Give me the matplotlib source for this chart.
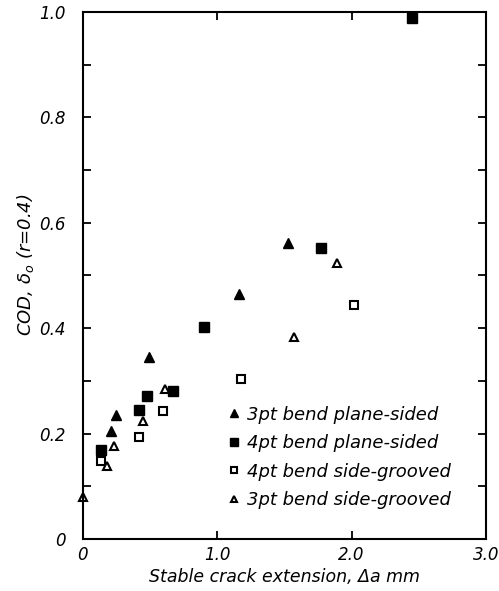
import matplotlib.pyplot as plt

# 3pt bend plane-sided (filled triangles)
x_3pt_plane = [0.21, 0.245, 0.495, 1.16, 1.53]
y_3pt_plane = [0.205, 0.235, 0.345, 0.465, 0.562]

# 4pt bend plane-sided (filled squares)
x_4pt_plane = [0.134, 0.42, 0.48, 0.67, 0.90, 1.77, 2.45]
y_4pt_plane = [0.169, 0.245, 0.272, 0.281, 0.402, 0.552, 0.988]

# 4pt bend side-grooved (open squares)
x_4pt_sg = [0.134, 0.42, 0.60, 1.18, 2.02]
y_4pt_sg = [0.148, 0.194, 0.243, 0.304, 0.443]

# 3pt bend side-grooved (open triangles)
x_3pt_sg = [0.0, 0.18, 0.235, 0.445, 0.61, 1.57, 1.89]
y_3pt_sg = [0.08, 0.139, 0.176, 0.223, 0.285, 0.384, 0.523]

x_ticks = [0, 1.0, 2.0, 3.0]
x_ticklabels = ["0", "1.0", "2.0", "3.0"]
y_ticks = [0, 0.2, 0.4, 0.6, 0.8, 1.0]
y_ticklabels = ["0", "0.2", "0.4", "0.6", "0.8", "1.0"]

plt.rcParams["font.family"] = ["DejaVu Sans"]
plt.rcParams["font.style"] = "italic"

fig = plt.figure(figsize=(4.99, 5.91), dpi=100)
ax = fig.add_axes([0.166, 0.088, 0.808, 0.892])

ax.plot(x_3pt_plane, y_3pt_plane, ls="none", marker="^", ms=7, color="black",
        label="3pt bend plane-sided")
ax.plot(x_4pt_plane, y_4pt_plane, ls="none", marker="s", ms=7, color="black",
        label="4pt bend plane-sided")
ax.plot(x_4pt_sg, y_4pt_sg, ls="none", marker="s", ms=5.5, mfc="white", mec="black",
        mew=1.5, label="4pt bend side-grooved")
ax.plot(x_3pt_sg, y_3pt_sg, ls="none", marker="^", ms=6, mfc="white", mec="black",
        mew=1.5, label="3pt bend side-grooved", clip_on=False)

ax.set_xlim(0, 3.0)
ax.set_ylim(0, 1.0)
ax.set_xticks(x_ticks)
ax.set_xticklabels(x_ticklabels, fontsize=12, style="italic")
ax.set_yticks(y_ticks)
ax.set_yticklabels(y_ticklabels, fontsize=12, style="italic")
ax.set_yticks([0.1, 0.3, 0.5, 0.7, 0.9], minor=True)

ax.tick_params(which="both", direction="in", top=True, right=True,
               length=6, width=1.3)
ax.tick_params(axis="y", which="major", pad=12)
ax.tick_params(axis="x", which="major", pad=5)
for sp in ax.spines.values():
    sp.set_linewidth(1.5)

ax.set_xlabel("Stable crack extension, Δa mm", fontsize=12.5, style="italic", labelpad=3)
ax.set_ylabel("COD, δ$_o$ (r=0.4)", fontsize=13, style="italic")
ax.yaxis.set_label_coords(-0.115, 0.52)

ax.legend(loc="upper left", bbox_to_anchor=(0.33, 0.27), frameon=False,
          fontsize=13, handletextpad=0.25, labelspacing=0.58, borderpad=0,
          handlelength=1.0, markerscale=0.8)

fig.savefig("out.png", dpi=100)
